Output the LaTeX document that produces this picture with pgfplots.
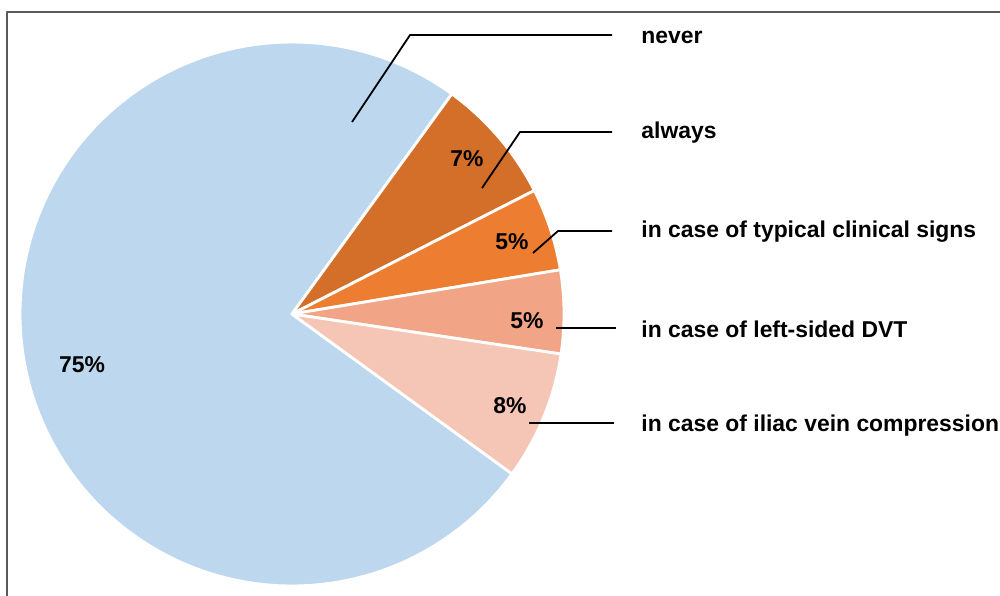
\documentclass[border=0pt]{standalone}
\usepackage{pgfplots}
\pgfplotsset{compat=1.18}
\usepackage{fontspec}
\setmainfont{Liberation Sans}
\definecolor{cNever}{HTML}{BDD7EE}
\definecolor{cAlways}{HTML}{D46F2A}
\definecolor{cTypical}{HTML}{ED7D31}
\definecolor{cLeft}{HTML}{F1A586}
\definecolor{cIliac}{HTML}{F5C6B6}
\definecolor{frame}{HTML}{5A5A5A}
% slice shares (percent), clockwise from start angle 54 deg
\def\vAlways{7.5}
\def\vTypical{4.9}
\def\vLeft{4.95}
\def\vIliac{7.65}
\def\vNever{75}
\def\cx{292}
\def\cy{281}
\def\R{272}
\pgfmathsetmacro\aA{54}
\pgfmathsetmacro\aB{\aA-3.6*\vAlways}
\pgfmathsetmacro\aC{\aB-3.6*\vTypical}
\pgfmathsetmacro\aD{\aC-3.6*\vLeft}
\pgfmathsetmacro\aE{\aD-3.6*\vIliac}
\pgfmathsetmacro\aF{\aE-3.6*\vNever}
\tikzset{lab/.style={font=\bfseries\fontsize{11.45}{13}\selectfont}}
\begin{document}
\begin{tikzpicture}
\begin{axis}[
  scale only axis, width=500pt, height=297.5pt,
  xmin=0, xmax=1000, ymin=0, ymax=595,
  hide axis, clip=false,
  every axis plot/.append style={line join=round},
]
% frame
\addplot[frame, line width=1.1pt] coordinates {(7,-5) (7,583) (1005,583)};
% wedges
\addplot[fill=cNever, draw=white, line width=1.4pt, domain=\aF:\aE, samples=120, variable=\t]
  ({\cx+\R*cos(\t)},{\cy+\R*sin(\t)}) -- (axis cs:\cx,\cy) -- cycle;
\addplot[fill=cAlways, draw=white, line width=1.4pt, domain=\aB:\aA, samples=30, variable=\t]
  ({\cx+\R*cos(\t)},{\cy+\R*sin(\t)}) -- (axis cs:\cx,\cy) -- cycle;
\addplot[fill=cTypical, draw=white, line width=1.4pt, domain=\aC:\aB, samples=30, variable=\t]
  ({\cx+\R*cos(\t)},{\cy+\R*sin(\t)}) -- (axis cs:\cx,\cy) -- cycle;
\addplot[fill=cLeft, draw=white, line width=1.4pt, domain=\aD:\aC, samples=30, variable=\t]
  ({\cx+\R*cos(\t)},{\cy+\R*sin(\t)}) -- (axis cs:\cx,\cy) -- cycle;
\addplot[fill=cIliac, draw=white, line width=1.4pt, domain=\aE:\aD, samples=30, variable=\t]
  ({\cx+\R*cos(\t)},{\cy+\R*sin(\t)}) -- (axis cs:\cx,\cy) -- cycle;
% leader lines
\addplot[black, line width=0.9pt] coordinates {(352,473) (410,560) (612,560)};
\addplot[black, line width=0.9pt] coordinates {(482,407) (520,463) (612,463)};
\addplot[black, line width=0.9pt] coordinates {(533,342) (558,364) (612,364)};
\addplot[black, line width=0.9pt] coordinates {(556,267) (616,267)};
\addplot[black, line width=0.9pt] coordinates {(529,172) (614,172)};
% percentage labels
\node[lab] at (axis cs:467,436) {7\%};
\node[lab] at (axis cs:512,353) {5\%};
\node[lab] at (axis cs:527,274) {5\%};
\node[lab] at (axis cs:510,189) {8\%};
\node[lab] at (axis cs:82,230) {75\%};
% category labels
\node[lab, anchor=west, inner sep=0pt] at (axis cs:641,558) {never};
\node[lab, anchor=west, inner sep=0pt] at (axis cs:641,462) {always};
\node[lab, anchor=west, inner sep=0pt] at (axis cs:641,363) {in case of typical clinical signs};
\node[lab, anchor=west, inner sep=0pt] at (axis cs:641,266) {in case of left-sided DVT};
\node[lab, anchor=west, inner sep=0pt] at (axis cs:641,169) {in case of iliac vein compression};
\end{axis}
\pgfresetboundingbox
\useasboundingbox (current axis.south west) rectangle (current axis.north east);
\end{tikzpicture}
\end{document}
